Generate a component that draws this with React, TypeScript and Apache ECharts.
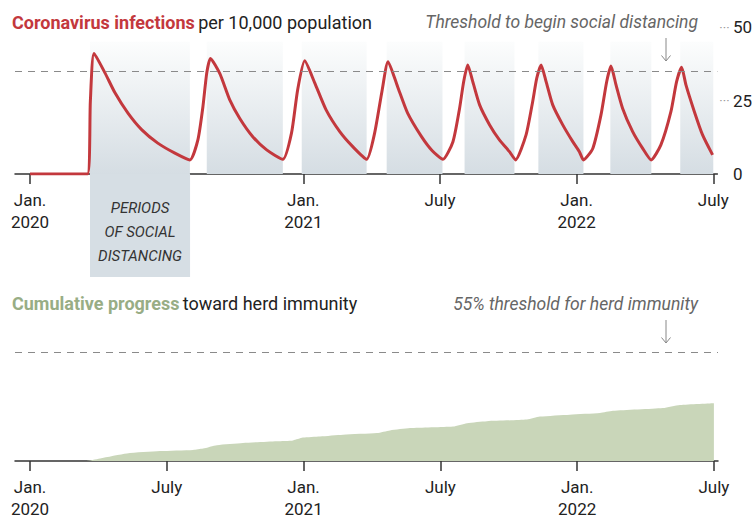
import React, { useEffect, useRef } from 'react';
import * as echarts from 'echarts';

// x values are months since Jan. 2020
const tickMonths = [0, 6, 12, 18, 24, 30];
const tickLabels = ['Jan.\n2020', 'July', 'Jan.\n2021', 'July', 'Jan.\n2022', 'July'];
// in the upper panel the July 2020 tick is covered by the "periods of social distancing" box
const topTickMonths = [0, 12, 18, 24, 30];
const infectionTicks = [0, 25, 50];
const distancingThreshold = 35;
const herdThreshold = 55;

const infections: [number, number][] = [
  [0, 0], [2.52, 0], [2.65, 25], [2.81, 41],
  [3.29, 34.4], [3.73, 27.6], [4.3, 20.7], [4.91, 15.0], [5.61, 10.5], [6.36, 7.1], [7.02, 4.8],
  [7.37, 11.6], [7.59, 22.8], [7.76, 34.4], [7.92, 39.3],
  [8.33, 34.2], [8.77, 25.2], [9.21, 18.9], [9.78, 12.7], [10.39, 8.2], [11.1, 5.0],
  [11.48, 13.9], [11.75, 28.6], [12.06, 38.5],
  [12.5, 31], [13.0, 21.8], [13.6, 14.4], [14.17, 9.3], [14.78, 5.0],
  [15.13, 13.9], [15.45, 28], [15.72, 38.2],
  [16.14, 29.7], [16.58, 20.7], [17.19, 12.7], [17.65, 8.0], [18.13, 5.0],
  [18.57, 11.0], [18.86, 22.3], [19.04, 31.4], [19.22, 37.1],
  [19.44, 31.4], [19.74, 23.5], [20.18, 16.7], [20.61, 11.6], [21.05, 7.6], [21.32, 4.8],
  [21.78, 13.3], [22.07, 24.6], [22.25, 32.6], [22.44, 37.1],
  [22.66, 31.4], [22.95, 23.5], [23.39, 16.7], [23.83, 11.0], [24.12, 7.6], [24.3, 4.8],
  [24.71, 8.7], [25.07, 20.1], [25.32, 31.4], [25.51, 36.7],
  [25.73, 30.3], [26.02, 22.3], [26.46, 14.4], [26.9, 8.7], [27.27, 4.8],
  [27.7, 9.9], [28.14, 21.2], [28.39, 31.4], [28.61, 36.3],
  [28.8, 30.3], [29.17, 21.2], [29.53, 13.3], [29.97, 6.5],
];

const distancingStart = [2.63, 7.76, 11.93, 15.66, 19.08, 22.32, 25.48, 28.55];
const distancingEnd = [7.02, 11.1, 14.78, 18.11, 21.27, 24.3, 27.28, 30.0];
const distancingTop = 45;

const immunity: [number, number][] = [
  [0, 0], [2.41, 0], [3.07, 1.3], [4.25, 3.8], [5.7, 5.0], [7.15, 5.6], [7.59, 6.3],
  [8.2, 8.0], [9.34, 9.1], [10.83, 10.0], [11.54, 10.4], [11.97, 11.8], [12.72, 12.4],
  [13.73, 13.3], [15.22, 14.1], [15.79, 15.4], [16.67, 16.6], [18.55, 17.4], [19.17, 19.1],
  [20.04, 20.1], [21.8, 20.9], [22.37, 22.4], [23.68, 23.4], [25.0, 24.2], [25.57, 25.3],
  [27.76, 26.7], [28.51, 28.3], [30, 29.2],
];

const FONT = 'Roboto, "Noto Sans", sans-serif';

function xAxis(gridIndex: number, show: boolean, ticks: number[]) {
  return {
    type: 'value',
    gridIndex,
    min: -0.66,
    max: 30.18,
    show,
    axisLine: { show, onZero: false, lineStyle: { color: '#333', width: 1.5 } },
    axisTick: { show, length: 10, customValues: ticks, lineStyle: { color: '#333', width: 1.5 } },
    axisLabel: {
      show,
      customValues: ticks,
      formatter: (v: number) => {
        const i = tickMonths.indexOf(Math.round(v));
        return i >= 0 ? tickLabels[i] : '';
      },
      margin: 15,
      fontSize: 17,
      lineHeight: 22,
      color: '#222',
      fontFamily: FONT,
    },
    splitLine: { show: false },
  };
}

export default function App() {
  const ref = useRef<HTMLDivElement>(null);
  useEffect(() => {
    if (!ref.current) return;
    const chart = echarts.init(ref.current, null, { renderer: 'svg' });
    const gradient = new echarts.graphic.LinearGradient(0, 0, 0, 1, [
      { offset: 0, color: '#fcfdfd' },
      { offset: 1, color: '#d5dde3' },
    ]);
    chart.setOption({
      animation: false,
      grid: [
        { left: 15, right: 37, top: 27, height: 147 },
        { left: 15, right: 37, top: 174, height: 103 },
        { left: 15, right: 37, top: 352, height: 111 },
      ],
      xAxis: [xAxis(0, true, topTickMonths), xAxis(1, false, topTickMonths), xAxis(2, true, tickMonths)],
      yAxis: [
        {
          type: 'value',
          gridIndex: 0,
          position: 'right',
          min: 0,
          max: 50,
          interval: 25,
          axisLine: { show: false },
          axisTick: { show: false },
          splitLine: { show: false },
          axisLabel: {
            margin: 2,
            formatter: (v: number) =>
              infectionTicks.includes(v)
                ? v === 0
                  ? '{h|···} {n|0}'
                  : '{d|···} {n|' + v + '}'
                : '',
            rich: {
              d: { color: '#999', fontSize: 13, fontFamily: FONT },
              h: { color: 'rgba(0,0,0,0)', fontSize: 13, fontFamily: FONT },
              n: { color: '#222', fontSize: 17, fontFamily: FONT },
            },
          },
        },
        { type: 'value', gridIndex: 1, min: 0, max: 1, show: false },
        { type: 'value', gridIndex: 2, min: 0, max: herdThreshold, show: false },
      ],
      series: [
        {
          type: 'line',
          xAxisIndex: 0,
          yAxisIndex: 0,
          data: infections,
          showSymbol: false,
          smooth: 0.2,
          silent: true,
          lineStyle: { color: '#c3383d', width: 3 },
          markArea: {
            silent: true,
            itemStyle: { color: gradient },
            data: distancingStart.map((s, i) => [
              { xAxis: s, yAxis: 0 },
              { xAxis: distancingEnd[i], yAxis: distancingTop },
            ]),
          },
          markLine: {
            silent: true,
            symbol: ['none', 'none'],
            label: { show: false },
            lineStyle: { color: '#8a8a8a', width: 1, type: [7, 6] },
            data: [{ yAxis: distancingThreshold }],
          },
        },
        {
          type: 'line',
          xAxisIndex: 1,
          yAxisIndex: 1,
          data: [],
          silent: true,
          markArea: {
            silent: true,
            itemStyle: { color: '#d6dee4' },
            label: {
              show: true,
              position: 'inside',
              offset: [0, 6],
              formatter: 'PERIODS\nOF SOCIAL\nDISTANCING',
              fontStyle: 'italic',
              fontSize: 15,
              lineHeight: 24,
              color: '#333',
              align: 'center',
              fontFamily: FONT,
            },
            data: [[
              { xAxis: distancingStart[0], yAxis: 0 },
              { xAxis: distancingEnd[0], yAxis: 1 },
            ]],
          },
        },
        {
          type: 'line',
          xAxisIndex: 2,
          yAxisIndex: 2,
          data: immunity,
          showSymbol: false,
          smooth: 0.2,
          silent: true,
          lineStyle: { width: 0 },
          areaStyle: { color: '#c9d6b9', opacity: 1 },
          markLine: {
            silent: true,
            symbol: ['none', 'none'],
            label: { show: false },
            lineStyle: { color: '#8a8a8a', width: 1, type: [7, 6] },
            data: [{ yAxis: herdThreshold }],
          },
        },
      ],
      graphic: [
        {
          type: 'text',
          x: 12,
          y: 22.5,
          style: {
            text: '{a|Coronavirus infections} {b|per 10,000 population}',
            verticalAlign: 'middle',
            rich: {
              a: { fontSize: 18, fontWeight: 'bold', fill: '#c3383d', fontFamily: FONT },
              b: { fontSize: 18, fill: '#222', fontFamily: FONT },
            },
          },
        },
        {
          type: 'text',
          x: 698,
          y: 21.5,
          style: {
            text: 'Threshold to begin social distancing',
            align: 'right',
            verticalAlign: 'middle',
            fontSize: 17.5,
            fontStyle: 'italic',
            fontFamily: FONT,
            fill: '#666',
          },
        },
        { type: 'line', shape: { x1: 666, y1: 38, x2: 666, y2: 61 }, style: { stroke: '#888', lineWidth: 1 } },
        { type: 'polyline', shape: { points: [[661.5, 55.5], [666, 61], [670.5, 55.5]] }, style: { stroke: '#888', fill: null, lineWidth: 1 } },
        {
          type: 'text',
          x: 12,
          y: 303.5,
          style: {
            text: '{a|Cumulative progress} {b|toward herd immunity}',
            verticalAlign: 'middle',
            rich: {
              a: { fontSize: 18, fontWeight: 'bold', fill: '#98ad85', fontFamily: FONT },
              b: { fontSize: 18, fill: '#222', fontFamily: FONT },
            },
          },
        },
        {
          type: 'text',
          x: 698,
          y: 303.5,
          style: {
            text: '55% threshold for herd immunity',
            align: 'right',
            verticalAlign: 'middle',
            fontSize: 17.5,
            fontStyle: 'italic',
            fontFamily: FONT,
            fill: '#666',
          },
        },
        { type: 'line', shape: { x1: 666, y1: 320, x2: 666, y2: 343 }, style: { stroke: '#888', lineWidth: 1 } },
        { type: 'polyline', shape: { points: [[661.5, 337.5], [666, 343], [670.5, 337.5]] }, style: { stroke: '#888', fill: null, lineWidth: 1 } },
      ],
    });
    return () => chart.dispose();
  }, []);
  return (
    <div
      ref={ref}
      style={{ position: 'fixed', left: 0, top: 0, width: 755, height: 520, background: '#fff' }}
    />
  );
}
